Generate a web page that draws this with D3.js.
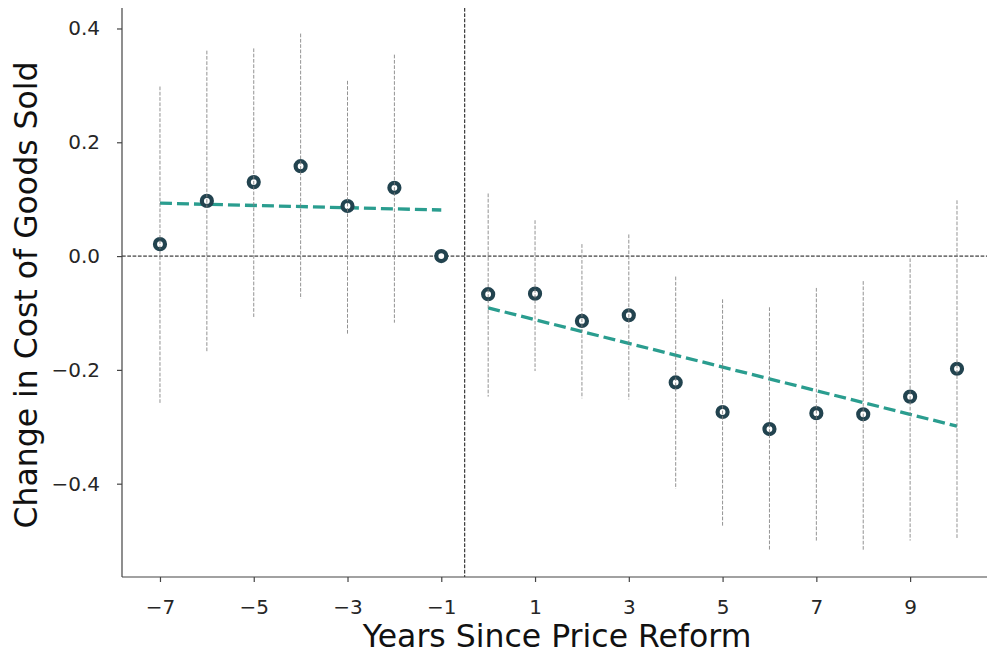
<!DOCTYPE html>
<html>
<head>
<meta charset="utf-8">
<script src="https://cdn.jsdelivr.net/npm/d3@7"></script>
<style>
  body { margin: 0; background: #fff; }
  svg { display: block; font-family: "DejaVu Sans", sans-serif; }
</style>
</head>
<body>
<svg id="chart" width="987" height="656"></svg>
<script>
// event-study estimates
const years = [-7, -6, -5, -4, -3, -2, -1, 0, 1, 2, 3, 4, 5, 6, 7, 8, 9, 10];
const coef  = [0.021, 0.097, 0.130, 0.158, 0.088, 0.120, 0.0, -0.067, -0.066, -0.114, -0.104, -0.222, -0.274, -0.304, -0.276, -0.278, -0.247, -0.198];
const ciHigh = [0.298, 0.361, 0.365, 0.391, 0.308, 0.354, null, 0.110, 0.063, 0.021, 0.038, -0.036, -0.076, -0.090, -0.056, -0.044, -0.004, 0.098];
const ciLow  = [-0.258, -0.168, -0.107, -0.075, -0.139, -0.117, null, -0.247, -0.202, -0.250, -0.252, -0.409, -0.475, -0.518, -0.500, -0.516, -0.500, -0.497];

// fitted trend lines before / after the reform
const preTrend  = [{x: -7, y: 0.093}, {x: -1, y: 0.081}];
const postTrend = [{x: 0, y: -0.091}, {x: 10, y: -0.299}];

const xTicks = [-7, -5, -3, -1, 1, 3, 5, 7, 9];
const yTicks = [-0.4, -0.2, 0.0, 0.2, 0.4];

const svg = d3.select("#chart"),
      margin = {top: 8, right: 0, bottom: 79, left: 122},
      width = +svg.attr("width") - margin.left - margin.right,
      height = +svg.attr("height") - margin.top - margin.bottom;

const g = svg.append("g").attr("transform", `translate(${margin.left},${margin.top})`);

const x = d3.scaleLinear().domain([-7.81, 10.64]).range([0, width]);
const y = d3.scaleLinear().domain([-0.564, 0.436]).range([height, 0]);

const points = years.map((yr, i) => ({yr, c: coef[i], hi: ciHigh[i], lo: ciLow[i]}));

// reference lines
g.append("line")
  .attr("x1", 0).attr("x2", width)
  .attr("y1", y(0)).attr("y2", y(0))
  .attr("stroke", "#111").attr("stroke-width", 1)
  .attr("stroke-dasharray", "3.7,1.6");

g.append("line")
  .attr("x1", x(-0.5)).attr("x2", x(-0.5))
  .attr("y1", 0).attr("y2", height)
  .attr("stroke", "#111").attr("stroke-width", 1)
  .attr("stroke-dasharray", "3.7,1.6");

// trend lines
const line = d3.line().x(d => x(d.x)).y(d => y(d.y));
[preTrend, postTrend].forEach(t => {
  g.append("path")
    .attr("d", line(t))
    .attr("fill", "none")
    .attr("stroke", "#2a9d8f")
    .attr("stroke-width", 3.3)
    .attr("stroke-dasharray", "12,5");
});

// point estimates
g.selectAll("circle.pt")
  .data(points)
  .enter().append("circle")
  .attr("class", "pt")
  .attr("cx", d => x(d.yr))
  .attr("cy", d => y(d.c))
  .attr("r", 5)
  .attr("fill", "#fff")
  .attr("stroke", "#22434f")
  .attr("stroke-width", 4.2);

// confidence intervals (drawn over the markers, as in the original)
g.selectAll("line.ci")
  .data(points.filter(d => d.hi !== null))
  .enter().append("line")
  .attr("class", "ci")
  .attr("x1", d => x(d.yr)).attr("x2", d => x(d.yr))
  .attr("y1", d => y(d.hi)).attr("y2", d => y(d.lo))
  .attr("stroke", "#808080").attr("stroke-width", 1)
  .attr("stroke-opacity", 0.85)
  .attr("stroke-dasharray", "3.7,1.6");

// axes
const xAxis = g.append("g")
  .attr("transform", `translate(0,${height})`)
  .call(d3.axisBottom(x).tickValues(xTicks).tickSize(5).tickPadding(18)
    .tickFormat(d => d < 0 ? "\u2212" + Math.abs(d) : d));

const yAxis = g.append("g")
  .call(d3.axisLeft(y).tickValues(yTicks).tickSize(5).tickPadding(17)
    .tickFormat(d => { const s = Math.abs(d).toFixed(1); return d < -1e-9 ? "\u2212" + s : s; }));

[xAxis, yAxis].forEach(a => {
  a.select(".domain").attr("stroke", "#444").attr("stroke-width", 1.2);
  a.selectAll(".tick line").attr("stroke", "#444").attr("stroke-width", 1.2);
  a.selectAll(".tick text")
    .attr("fill", "#262626")
    .style("font-size", "20px")
    .style("font-family", "DejaVu Sans, sans-serif");
});
xAxis.select(".domain").attr("d", `M0,0H${width}`);
yAxis.select(".domain").attr("d", `M0,0V${height}`);

// axis labels
svg.append("text")
  .attr("x", 557).attr("y", 647)
  .attr("text-anchor", "middle")
  .attr("fill", "#111")
  .style("font-size", "31.5px")
  .text("Years Since Price Reform");

svg.append("text")
  .attr("transform", "translate(37,295) rotate(-90)")
  .attr("text-anchor", "middle")
  .attr("fill", "#111")
  .style("font-size", "31.5px")
  .text("Change in Cost of Goods Sold");
</script>
</body>
</html>
